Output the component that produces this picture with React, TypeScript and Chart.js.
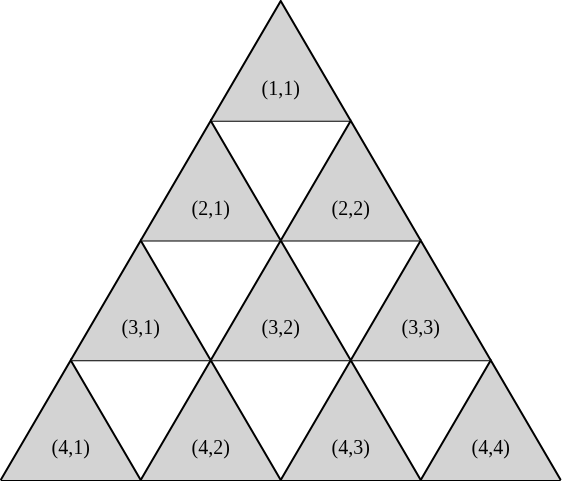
import React, { useEffect, useRef } from "react";
import { Chart, registerables } from "chart.js";
Chart.register(...registerables);

const rows = [1, 2, 3, 4];
const fillColor = "#d3d3d3";
const labelOffset = 0.74;

export default function App() {
  const ref = useRef<HTMLCanvasElement>(null);
  useEffect(() => {
    document.body.style.margin = "0";
    const datasets: any[] = [];
    const labels: { x: number; y: number; t: string }[] = [];
    rows.forEach((i) => {
      for (let j = 1; j <= i; j++) {
        const ax = 2 - (i - 1) / 2 + (j - 1);
        const top = i - 1;
        datasets.push({
          data: [{ x: ax - 0.5, y: i }, { x: ax, y: top }, { x: ax + 0.5, y: i }],
          showLine: true, borderColor: "#000", borderWidth: 2, pointRadius: 0,
          backgroundColor: fillColor, fill: { value: i }, tension: 0,
        });
        labels.push({ x: ax, y: top + labelOffset, t: `(${i},${j})` });
      }
      datasets.push({
        data: [{ x: 2 - i / 2, y: i }, { x: 2 + i / 2, y: i }],
        showLine: true, borderColor: "#000", borderWidth: 2, pointRadius: 0, fill: false,
      });
    });
    const textPlugin = {
      id: "txt",
      afterDatasetsDraw(c: any) {
        const ctx = c.ctx;
        ctx.save();
        ctx.font = '20px "Liberation Serif"';
        ctx.fillStyle = "#000";
        ctx.textAlign = "center";
        ctx.textBaseline = "middle";
        labels.forEach((l) => ctx.fillText(l.t, c.scales.x.getPixelForValue(l.x), c.scales.y.getPixelForValue(l.y)));
        ctx.restore();
      },
    };
    const chart = new Chart(ref.current!, {
      type: "scatter",
      data: { datasets },
      options: {
        animation: false, responsive: false,
        layout: { padding: 0 },
        plugins: { legend: { display: false }, tooltip: { enabled: false } },
        scales: {
          x: { display: false, min: -0.005, max: 4.009 },
          y: { display: false, reverse: true, min: -0.008, max: 4.016 },
        },
      },
      plugins: [textPlugin],
    } as any);
    return () => chart.destroy();
  }, []);
  return <canvas ref={ref} width={562} height={482} style={{ display: "block" }} />;
}
